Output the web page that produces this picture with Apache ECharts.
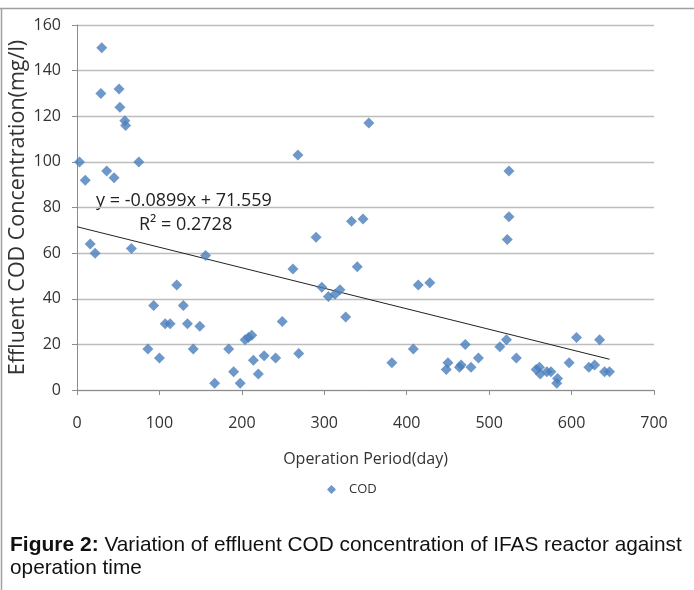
<!DOCTYPE html>
<html>
<head>
<meta charset="utf-8">
<script src="https://cdn.jsdelivr.net/npm/echarts@6/dist/echarts.min.js"></script>
<style>
html,body{margin:0;padding:0;background:#fff;}
#chart{width:694px;height:590px;}
</style>
</head>
<body>
<div id="chart"></div>
<script>
// Operation period (day)
var days = [3,10,16,22,29,30,36,45,51,52,58,59,66,75,86,93,100,107,113,121,129,134,141,149,156,167,184,190,198,204,208,212,214,220,227,241,249,262,268,269,290,297,305,313,319,326,333,340,347,354,382,408,414,428,448,450,464,466,471,478,487,513,521,522,524,524,533,557,561,562,570,575,582,583,597,606,621,628,634,640,646];
// Effluent COD (mg/l)
var cod = [100,92,64,60,130,150,96,93,132,124,118,116,62,100,18,37,14,29,29,46,37,29,18,28,59,3,18,8,3,22,23,24,13,7,15,14,30,53,103,16,67,45,41,42,44,32,74,54,75,117,12,18,46,47,9,12,10,11,20,10,14,19,22,66,96,76,14,9,10,7,8,8,3,5,12,23,10,11,22,8,8];
var xTicks = [0,100,200,300,400,500,600,700];
var yTicks = [0,20,40,60,80,100,120,140,160];
// Linear trendline
var trendSlope = -0.0899;
var trendIntercept = 71.559;
var trendStart = 0;
var trendEnd = 646;
var eqText = 'y = -0.0899x + 71.559';
var r2Text = 'R² = 0.2728';
var captionBold = 'Figure 2:';
var captionLine1 = ' Variation of effluent COD concentration of IFAS reactor against';
var captionLine2 = 'operation time';

var pts = days.map(function(d,i){return [d, cod[i]];});
var trend = [[trendStart, trendIntercept + trendSlope*trendStart],[trendEnd, trendIntercept + trendSlope*trendEnd]];

var chart = echarts.init(document.getElementById('chart'), null, {renderer:'canvas'});
var axisFont = '"Open Sans", "Noto Sans", sans-serif';
chart.setOption({
  animation:false,
  backgroundColor:'#ffffff',
  grid:{left:77, right:40, top:25, height:365, containLabel:false, outerBoundsMode:'none'},
  xAxis:{
    type:'value', min:xTicks[0], max:xTicks[xTicks.length-1], interval:100,
    name:'Operation Period(day)', nameLocation:'middle', nameGap:61, nameMoveOverlap:false,
    nameTextStyle:{fontFamily:axisFont, fontSize:16, color:'#333'},
    axisLine:{show:true, onZero:false, lineStyle:{color:'#8c8c8c', width:1}},
    axisTick:{show:true, length:5, lineStyle:{color:'#8c8c8c'}},
    axisLabel:{fontFamily:axisFont, fontSize:16, color:'#333', margin:25},
    splitLine:{show:false}
  },
  yAxis:{
    type:'value', min:yTicks[0], max:yTicks[yTicks.length-1], interval:20,
    name:'Effluent COD Concentration(mg/l)', nameLocation:'middle', nameGap:48, nameMoveOverlap:false,
    nameTextStyle:{fontFamily:axisFont, fontSize:21.5, color:'#333'},
    axisLine:{show:true, lineStyle:{color:'#8c8c8c', width:1}},
    axisTick:{show:true, length:5, lineStyle:{color:'#8c8c8c'}},
    axisLabel:{fontFamily:axisFont, fontSize:16, color:'#333', margin:16},
    splitLine:{show:true, lineStyle:{color:'#bdbdbd', width:1.3}}
  },
  legend:{
    data:[{name:'COD', icon:'diamond'}], left:322, top:478,
    itemWidth:9, itemHeight:9, itemGap:10,
    textStyle:{fontFamily:axisFont, fontSize:13, color:'#333', padding:[0,0,0,8]}
  },
  series:[
    {
      name:'COD', type:'scatter', data:pts, symbol:'diamond', symbolSize:11,
      itemStyle:{color:'#4A7EBB'}, z:3
    },
    {
      name:'trend', type:'line', data:trend, symbol:'none', silent:true,
      lineStyle:{color:'#222', width:1}, z:2
    }
  ],
  graphic:[
    {type:'line', shape:{x1:0, y1:8.5, x2:694, y2:8.5}, style:{stroke:'#a0a0a0', lineWidth:1.5}},
    {type:'line', shape:{x1:1.5, y1:8, x2:1.5, y2:590}, style:{stroke:'#a0a0a0', lineWidth:1.5}},
    {type:'text', left:96, top:192, style:{text:eqText, fontFamily:axisFont, fontSize:18, fill:'#222'}},
    {type:'text', left:139, top:216, style:{text:r2Text, fontFamily:axisFont, fontSize:18, fill:'#222'}},
    {type:'text', left:10, top:535, style:{
      text:'{b|'+captionBold+'}{r|'+captionLine1+'}\n{r|'+captionLine2+'}',
      fill:'#111',
      rich:{
        b:{fontFamily:'"Liberation Sans", Arial, sans-serif', fontWeight:'bold', fontSize:21, lineHeight:23},
        r:{fontFamily:'"Liberation Sans", Arial, sans-serif', fontSize:20.8, lineHeight:23}
      }
    }}
  ]
});
</script>
</body>
</html>
